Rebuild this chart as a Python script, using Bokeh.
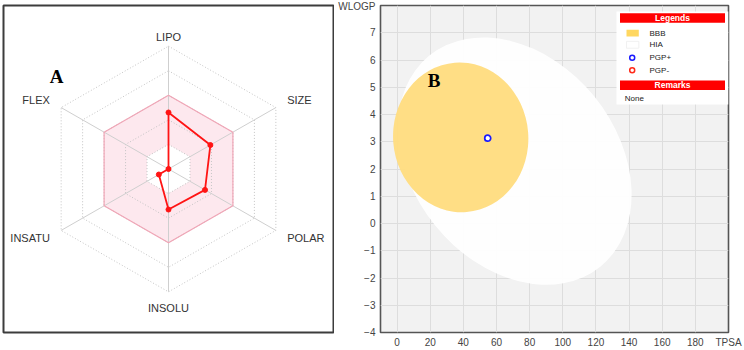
import numpy as np
from bokeh.plotting import figure
from bokeh.layouts import row
from bokeh.models import Label, FixedTicker
from bokeh.embed import file_html
from bokeh.resources import INLINE

# ---------------- Panel A : bioavailability radar ----------------
radar_axes = ["LIPO", "SIZE", "POLAR", "INSOLU", "INSATU", "FLEX"]
radar_angles_deg = [90, 30, -30, -90, -150, 150]
radar_values = [0.46, 0.39, 0.34, 0.33, 0.09, 0.0]
ring_levels = [0.2, 0.4, 0.6, 0.8, 1.0]
optimal_inner = 0.2
optimal_outer = 0.6

# ---------------- Panel B : BOILED-Egg ----------------
x_ticks = [0, 20, 40, 60, 80, 100, 120, 140, 160, 180]
y_ticks = [-4, -3, -2, -1, 0, 1, 2, 3, 4, 5, 6, 7]
x_title = "TPSA"
y_title = "WLOGP"
hia_center = (71.05, 2.29)
hia_size = (163.9, 7.52)
hia_angle = -0.89
bbb_center = (38.4, 3.16)
bbb_size = (81.6, 5.5)
bbb_angle = 0.08
pgp_plus_tpsa = [54.7]
pgp_plus_wlogp = [3.13]
pgp_minus_tpsa = []
pgp_minus_wlogp = []
legend_labels = ["BBB", "HIA", "PGP+", "PGP-"]
remarks_text = "None"

FONT = "Liberation Sans"
SERIF = "Liberation Serif"

# ---------- Panel A ----------
ang = np.radians(radar_angles_deg)


def hexagon(r):
    xs = list(r * np.cos(ang)) + [r * np.cos(ang[0])]
    ys = list(r * np.sin(ang)) + [r * np.sin(ang[0])]
    return xs, ys


half = 1.331
pa = figure(width=334, height=350, x_range=(-half, half), y_range=(-half, half),
            x_axis_type=None, y_axis_type=None, toolbar_location=None,
            output_backend="svg", min_border_left=3, min_border_right=1,
            min_border_top=3, min_border_bottom=17,
            outline_line_color="#3c3c3c", outline_line_width=2)

xo, yo = hexagon(optimal_outer)
xi, yi = hexagon(optimal_inner)
pa.patch(xo, yo, fill_color="#fde8ee", line_color=None)
pa.patch(xi, yi, fill_color="white", line_color=None)
for r in ring_levels:
    hx, hy = hexagon(r)
    pa.line(hx, hy, line_color="#c4c4c4", line_dash="1 2", line_width=1)
pa.segment(x0=[0] * 6, y0=[0] * 6, x1=list(np.cos(ang)), y1=list(np.sin(ang)),
           line_color="#cfcfcf", line_width=1)
pa.line(xo, yo, line_color="#f0a5b6", line_width=1.2)

vals = np.array(radar_values)
dx = list(vals * np.cos(ang)) + [vals[0] * np.cos(ang[0])]
dy = list(vals * np.sin(ang)) + [vals[0] * np.sin(ang[0])]
pa.line(dx, dy, line_color="#ff1414", line_width=1.8)
pa.scatter(dx[:-1], dy[:-1], size=5, fill_color="#ff1414", line_color="#ff1414")

for name, a in zip(radar_axes, ang):
    c, s = np.cos(a), np.sin(a)
    if abs(c) < 0.01:
        align = "center"
        ry = 1.075 if s > 0 else 1.13
    else:
        align = "left" if c > 0 else "right"
        ry = 1.13
    pa.add_layout(Label(x=1.105 * c, y=ry * s, text=name,
                        text_align=align, text_baseline="middle",
                        text_font=FONT, text_font_size="11px", text_color="#333333"))

pa.add_layout(Label(x=-0.903, y=0.75, text="A", text_align="center", text_baseline="middle",
                    text_font=SERIF, text_font_style="bold", text_font_size="19px",
                    text_color="black"))

# ---------- Panel B ----------
X0, X1, Y0, Y1 = -10, 200, -4, 8
pb = figure(width=410, height=350, x_range=(X0, X1), y_range=(Y0, Y1),
            toolbar_location=None, output_backend="svg",
            min_border_left=46, min_border_right=16, min_border_top=5, min_border_bottom=18,
            background_fill_color="#f2f2f2", border_fill_color="white",
            outline_line_color="#555555", outline_line_width=1.6)

for ax in (pb.xaxis[0], pb.yaxis[0]):
    ax.axis_line_color = None
    ax.major_tick_line_color = None
    ax.minor_tick_line_color = None
    ax.major_tick_out = 0
    ax.major_tick_in = 0
    ax.minor_tick_out = 0
    ax.minor_tick_in = 0
    ax.major_label_text_font = FONT
    ax.major_label_text_font_size = "10px"
    ax.major_label_text_color = "#444444"
# axis titles sit at the far end of each axis, like the reference
pb.xaxis.ticker = FixedTicker(ticks=x_ticks + [X1])
pb.yaxis.ticker = FixedTicker(ticks=y_ticks + [Y1])
pb.xaxis.major_label_overrides = {X1: x_title}
pb.yaxis.major_label_overrides = {Y1: y_title}
pb.xaxis.major_label_standoff = 4
pb.yaxis.major_label_standoff = 5
pb.xgrid.ticker = FixedTicker(ticks=x_ticks)
pb.ygrid.ticker = FixedTicker(ticks=y_ticks)
pb.grid.grid_line_color = "#dddddd"
pb.grid.grid_line_width = 1

pb.ellipse(x=[hia_center[0]], y=[hia_center[1]], width=hia_size[0], height=hia_size[1],
           angle=hia_angle, fill_color="white", fill_alpha=0.93, line_color=None)
pb.ellipse(x=[bbb_center[0]], y=[bbb_center[1]], width=bbb_size[0], height=bbb_size[1],
           angle=bbb_angle, fill_color="#ffdc7e", fill_alpha=0.95, line_color=None)
pb.scatter(pgp_plus_tpsa, pgp_plus_wlogp, size=6, fill_color="white",
           line_color="#1a1aff", line_width=1.7)
if pgp_minus_tpsa:
    pb.scatter(pgp_minus_tpsa, pgp_minus_wlogp, size=6, fill_color="white",
               line_color="#ff2a1a", line_width=1.7)

# pixel -> data helpers for legend layout (frame: 348 x 327 px)
FW, FH = 348.0, 327.0


def px_x(px):
    return X0 + px * (X1 - X0) / FW


def px_y(py):
    return Y1 - py * (Y1 - Y0) / FH


# legend box (pixel offsets from frame top-left)
pb.quad(left=[px_x(236)], right=[px_x(348)], top=[px_y(6)], bottom=[px_y(99)],
        fill_color="white", line_color=None)
for top, txt in ((7.7, "Legends"), (75, "Remarks")):
    pb.quad(left=[px_x(239.5)], right=[px_x(344.5)], top=[px_y(top)], bottom=[px_y(top + 9.6)],
            fill_color="#ff0000", line_color=None)
    pb.add_layout(Label(x=px_x(292), y=px_y(top + 4.9), text=txt, text_align="center",
                        text_baseline="middle", text_font=FONT, text_font_style="bold",
                        text_font_size="8.5px", text_color="white"))

item_y = [27.7, 39.3, 52.3, 64.7]
pb.quad(left=[px_x(246)], right=[px_x(258.3)], top=[px_y(item_y[0] - 3.4)],
        bottom=[px_y(item_y[0] + 3.4)], fill_color="#ffd34f", fill_alpha=0.9, line_color=None)
pb.quad(left=[px_x(246)], right=[px_x(258.3)], top=[px_y(item_y[1] - 3.4)],
        bottom=[px_y(item_y[1] + 3.4)], fill_color="white", line_color="#eeeeee", line_width=0.8)
pb.scatter([px_x(251.7)], [px_y(item_y[2])], size=5, fill_color="white",
           line_color="#1a1aff", line_width=1.5)
pb.scatter([px_x(251.7)], [px_y(item_y[3])], size=5, fill_color="white",
           line_color="#ff2a1a", line_width=1.5)
for yy, txt in zip(item_y, legend_labels):
    pb.add_layout(Label(x=px_x(269), y=px_y(yy), text=txt, text_align="left",
                        text_baseline="middle", text_font=FONT, text_font_size="8px",
                        text_color="#222222"))
pb.add_layout(Label(x=px_x(244.3), y=px_y(93.3), text=remarks_text, text_align="left",
                    text_baseline="middle", text_font=FONT, text_font_size="8px",
                    text_color="#222222"))

pb.add_layout(Label(x=px_x(53.5), y=px_y(74.5), text="B", text_align="center",
                    text_baseline="middle", text_font=SERIF, text_font_style="bold",
                    text_font_size="19px", text_color="black"))

layout = row(pa, pb)
open("out.html", "w").write(file_html(layout, INLINE))
